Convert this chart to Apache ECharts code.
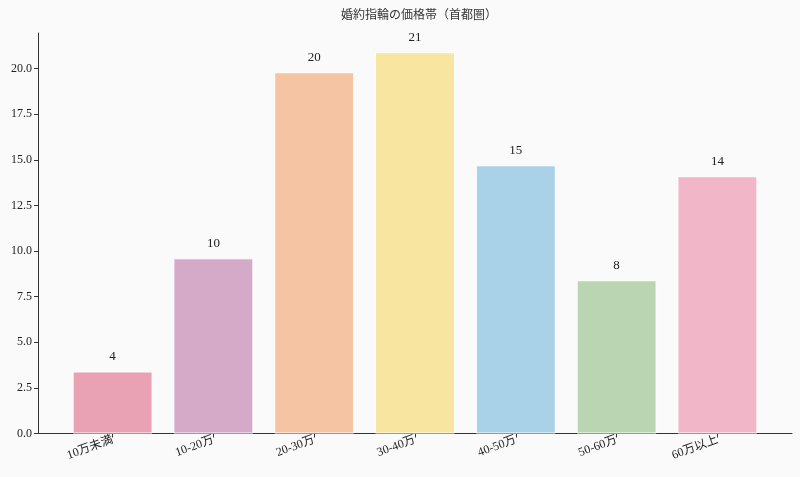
<!DOCTYPE html>
<html><head><meta charset="utf-8">
<script src="https://cdn.jsdelivr.net/npm/echarts@6/dist/echarts.min.js"></script>
<style>html,body{margin:0;padding:0;background:#fafafa}#c{width:800px;height:477px}</style>
</head><body><div id="c"></div>
<script>
const categories = ['10万未満','10-20万','20-30万','30-40万','40-50万','50-60万','60万以上'];
const values = [3.4, 9.6, 19.8, 20.9, 14.7, 8.4, 14.1];
const barLabels = ['4','10','20','21','15','8','14'];
const colors = ['#E9A1B4','#D5A9C8','#F5C4A3','#F8E6A0','#A9D1E7','#BAD5B1','#F1B7C9'];
const yTicks = [0,2.5,5,7.5,10,12.5,15,17.5,20];
const xTicks = categories.map((c,i)=>i);

const FONT = '"Liberation Serif","DejaVu Serif","Noto Sans CJK JP",serif';
const chart = echarts.init(document.getElementById('c'));
chart.setOption({
  backgroundColor: '#fafafa',
  animation: false,
  title: {
    text: '婚約指輪の価格帯（首都圏）',
    left: 414, top: 5, textAlign: 'center',
    textStyle: {fontFamily: FONT, fontSize: 12, fontWeight: 'normal', color: '#333'}
  },
  grid: {left: 38, right: 8, top: 33, bottom: 43.5},
  xAxis: {
    type: 'value', min: -0.74, max: 6.74,
    splitLine: {show: false},
    axisLine: {show: true, onZero: false, lineStyle: {color: '#333', width: 1}},
    axisTick: {show: true, customValues: xTicks, length: 4, lineStyle: {color: '#333'}},
    axisLabel: {
      customValues: xTicks, rotate: 20, margin: 6,
      fontFamily: FONT, fontSize: 12, color: '#222',
      formatter: v => categories[Math.round(v)]
    }
  },
  yAxis: {
    type: 'value', min: 0, max: 21.95,
    splitLine: {show: false},
    axisLine: {show: true, onZero: false, lineStyle: {color: '#333', width: 1}},
    axisTick: {show: true, customValues: yTicks, length: 4, lineStyle: {color: '#333'}},
    axisLabel: {
      customValues: yTicks, margin: 6,
      fontFamily: FONT, fontSize: 12, color: '#222',
      formatter: v => v.toFixed(1)
    }
  },
  series: [{
    type: 'bar',
    barWidth: 80,
    data: values.map((v,i)=>({value:[i,v], itemStyle:{color:colors[i]}})),
    itemStyle: {borderColor: '#ffffff', borderWidth: 1},
    label: {
      show: true, position: 'top', distance: 8,
      fontFamily: FONT, fontSize: 13, color: '#222',
      formatter: p => barLabels[p.dataIndex]
    }
  }]
});
</script></body></html>
